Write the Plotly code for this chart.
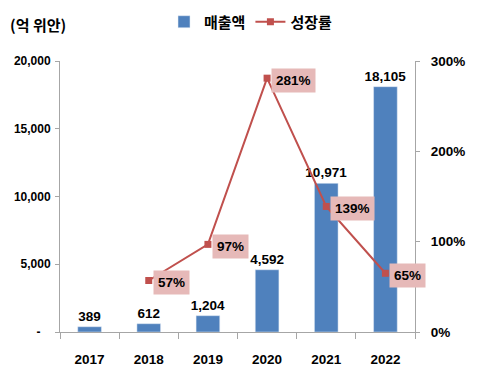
import plotly.graph_objects as go

years = ["2017", "2018", "2019", "2020", "2021", "2022"]
sales = [389, 612, 1204, 4592, 10971, 18105]
growth_years = ["2018", "2019", "2020", "2021", "2022"]
growth = [57, 97, 281, 139, 65]
left_ticks = [0, 5000, 10000, 15000, 20000]
left_tick_text = ["-   ", "5,000", "10,000", "15,000", "20,000"]
right_ticks = [0, 100, 200, 300]
right_tick_text = ["0%", "100%", "200%", "300%"]

FONT = "Liberation Sans, Arial, Noto Sans CJK KR, sans-serif"
KFONT = "Noto Sans CJK KR, sans-serif"
BLUE = "#4F81BD"
RED = "#C0504D"
PINK = "#E6B9B8"
AX = "#A6A6A6"

def f(size, fam=FONT):
    return dict(family=fam, size=size, color="black", weight="bold")

fig = go.Figure()
fig.add_trace(go.Bar(
    x=years, y=sales, name="매출액", marker_color=BLUE,
    text=[f"{v:,}" for v in sales], textposition="outside", constraintext="none",
    textfont=f(13.5), cliponaxis=False, yaxis="y",
))
fig.add_trace(go.Scatter(
    x=growth_years, y=growth, name="성장률", mode="lines+markers",
    line=dict(color=RED, width=2), marker=dict(symbol="square", size=7, color=RED),
    yaxis="y2", cliponaxis=False,
))

for xv, gv in zip(growth_years, growth):
    fig.add_annotation(
        x=years.index(xv), y=gv, xref="x", yref="y2", text=f"{gv}%",
        showarrow=False, xanchor="left", yanchor="middle", xshift=4, yshift=-2,
        bgcolor=PINK, borderpad=4, font=f(13.5),
    )

fig.add_annotation(
    x=-0.146, y=1.133, xref="paper", yref="paper", text="(억 위안)",
    showarrow=False, xanchor="left", yanchor="middle", font=f(15, KFONT),
)

fig.update_layout(
    width=470, height=375,
    margin=dict(l=52, r=63, t=53, b=51, autoexpand=False),
    plot_bgcolor="white", paper_bgcolor="white",
    bargap=0.6, showlegend=True,
    legend=dict(orientation="h", x=0.293, xanchor="left", y=1.144, yanchor="middle",
                font=f(15, KFONT), bgcolor="rgba(0,0,0,0)", itemwidth=30),
    xaxis=dict(
        type="category", categoryorder="array", categoryarray=years,
        range=[-0.5, len(years) - 0.5],
        showline=True, linecolor=AX, linewidth=1,
        ticks="outside", tickson="boundaries", ticklen=6, tickcolor=AX,
        tickfont=f(13.5), showgrid=False, ticklabelstandoff=15,
    ),
    yaxis=dict(
        range=[0, 20000], tickvals=left_ticks, ticktext=left_tick_text,
        showline=True, linecolor=AX, ticks="outside", ticklen=4, tickcolor=AX,
        showgrid=False, zeroline=False, tickfont=f(12), ticklabelstandoff=2,
    ),
    yaxis2=dict(
        range=[0, 300], tickvals=right_ticks, ticktext=right_tick_text,
        overlaying="y", side="right",
        showline=True, linecolor=AX, ticks="outside", ticklen=4, tickcolor=AX,
        showgrid=False, zeroline=False, tickfont=f(13.5), ticklabelstandoff=8,
    ),
)

fig.write_html("out.html")
